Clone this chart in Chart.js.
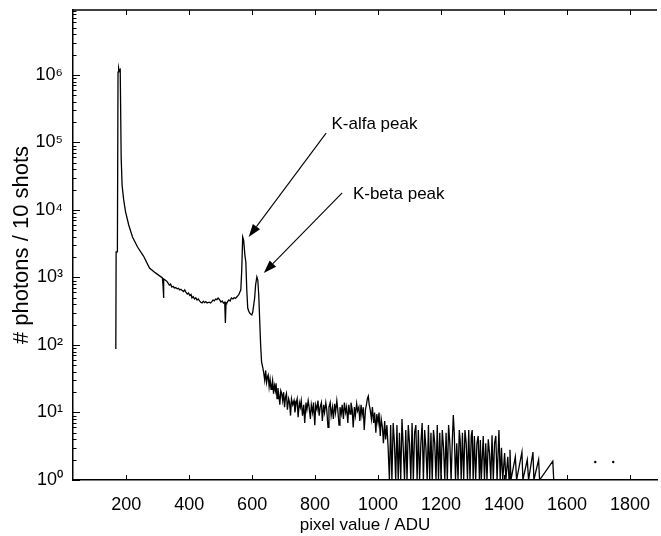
<!DOCTYPE html>
<html>
<head>
<meta charset="utf-8">
<script src="https://cdn.jsdelivr.net/npm/chart.js@4.4.1/dist/chart.umd.min.js"></script>
<style>
html,body{margin:0;padding:0;background:#ffffff;}
#wrap{width:661px;height:536px;position:relative;}
canvas{display:block;}
</style>
</head>
<body>
<div id="wrap"><canvas id="c" width="661" height="536"></canvas></div>
<script>
// ---------- data ----------
// main peak, continuum and K lines: pixel value (ADU) / photons per 10 shots
const peakAdu = [
  167,168,172,174,176,178,181,184,187,192,198,208,220,236,255,274,293,315,317,318,320,
  326,330,337,341,345,349,353,357,362,366,370,374,378,382,386,390,394,398,402,406,
  409,413,417,421,425,429,433,437,441,445,449,453,457,463,468,472,476,480,484,488,
  492,496,501,505,509,513,515,517,519,522,526,530,534,539,543,547,551,555,558,561,
  564,567,570,573,577,580,583,586,589,592,596,599,602,605,608,611,615,618,621,624,
  627,630,634,637
];
const peakCounts = [
  87,2400,2400,1100000,1270000,1150000,1200000,60000,23000,14100,9400,6000,3980,2830,2080,1380,1170,984,760,497,950,
  900,870,774,800,720,740,699,710,680,690,653,670,640,620,653,600,570,590,540,560,
  497,520,480,500,464,480,450,430,419,445,425,440,419,430,419,440,464,450,480,470,
  497,475,433,450,419,430,212,420,415,440,464,450,497,480,505,490,514,540,560,610,
  653,1290,3980,3590,2150,1700,653,353,320,298,285,278,308,391,497,774,1020,918,550,235,
  100,56,46,38
];
// noisy tail after the K-beta line
const tailAdu = [
  640,643,646,649,651,654,657,660,663,665,668,671,674,676,679,682,685,688,691,694,
  697,700,703,706,709,712,716,719,722,725,729,733,736,740,743,746,750,753,756,760,
  764,767,771,774,778,781,785,788,792,795,799,802,806,809,813,816,820,823,827,830,
  834,837,841,844,848,851,855,858,862,865,869,872,876,879,883,886,890,893,897,900,
  904,907,911,914,918,921,925,928,932,935,939,942,946,949,953,956,960,963,966,969,
  972,975,979,982,986,989,993,996,1000,1003,1007,1010,1014,1017,1021,1024,1028,1032
];
const tailCounts = [
  30,42,28,34,36,24,31,22,26,30,19,25,21,27,16,23,18,13,21,19,
  15,20,12,17,19,11,16,14,9,16,13,15,10,14,16,8.5,14,12,15,9,
  13,7,14,11,15,12,8,13,10,14,6.5,13,11,15,9,12,14,7.5,13,10,
  14,11,6,12,14,9,12,8,13.5,10,15,11,6.5,12,9.5,13,8,14,10,12,
  7,13,9.5,14,11,6,12,9,13.5,10.5,12,7.5,13,9,12,5.5,11,13,16,17.5,
  13,11,8,12,7,10,5,9.5,7,10,4.5,8,6,3.5,7.5,4,6.5,3
];
// sparse high-ADU region (single counts between empty bins)
const sparseAdu = [
  1036,1040,1044,1048,1052,1056,1060,1064,1068,1072,1076,1080,1084,1088,1092,1096,1100,1104,1108,1112,
  1116,1120,1124,1128,1132,1136,1140,1144,1148,1152,1156,1160,1164,1168,1172,1176,1180,1184,1188,1192,
  1196,1200,1204,1208,1212,1216,1220,1224,1228,1232,1236,1239,1242,1246,1250,1254,1258,1261,1264,1268,
  1272,1276,1280,1284,1288,1292,1296,1299,1302,1306,1310,1314,1318,1322,1325,1328,1334,1338,1342,1346,
  1350,1354,1358,1362,1366,1370,1374,1378,1384,1388,1392,1396,1402,1406,1412,1416,1419,1422,1436,1440,
  1457,1460,1474,1478,1492,1495,1510,1513,1555,1558
];
const sparseCounts = [
  1,6.5,1,7,3.5,1,6.5,1,5,1,8,3,1,5.5,1,6.5,3.5,1,7,1,
  5,6.5,1,5.5,1,3.5,7,1,5.5,3,1,6.5,1,5,1,5.5,3.5,1,6.5,1,
  5,1,5.5,3,1,5,1,6.5,3.5,1,4,9.2,5,1,3.5,1,5.5,3.7,1,5,
  1,5.5,3.5,1,5.5,1,4.5,5.5,1,4.5,1,3.5,4.5,1,3.9,1,4.5,1,3.5,1,
  4,2.5,1,4.6,1,3.5,4.5,1,5.5,1,3,1,2.5,1,2.2,1,2.8,1,2.2,1,
  2.6,1,2.0,1,2.6,1,2.0,1,1.9,1
];
// single isolated counts far out in the tail (not joined to neighbours)
const dotAdu = [1690, 1747];
const dotCounts = [1.85, 1.85];

// axis ticks and limits
const xTickValues = [200, 400, 600, 800, 1000, 1200, 1400, 1600, 1800];
const yDecades = [0, 1, 2, 3, 4, 5, 6];
const xRange = [31, 1886];
const yRange = [1, 9.18e6];

// annotations (data coordinates)
const notes = [
  {text: 'K-alfa peak', tx: 852, ty: 1.88e5, from: [835, 1.38e5], to: [589, 3980]},
  {text: 'K-beta peak', tx: 920, ty: 1.73e4, from: [886, 1.79e4], to: [637, 1170]}
];

// ---------- chart ----------
const SUP = ['\u2070','\u00B9','\u00B2','\u00B3','\u2074','\u2075','\u2076','\u2077'];
const FONT = 'Liberation Sans, Arial, Helvetica, sans-serif';

const allAdu = peakAdu.concat(tailAdu, sparseAdu);
const allCounts = peakCounts.concat(tailCounts, sparseCounts);
const linePts = allAdu.map((x, i) => ({x: x, y: allCounts[i]}));
const dotPts = dotAdu.map((x, i) => ({x: x, y: dotCounts[i]}));

const framePlugin = {
  id: 'frameTicks',
  afterDraw(chart) {
    const ctx = chart.ctx;
    const a = chart.chartArea;
    const xs = chart.scales.x, ys = chart.scales.y;
    ctx.save();
    ctx.strokeStyle = '#000';
    ctx.lineWidth = 1.5;
    ctx.beginPath();
    ctx.moveTo(a.left, a.top); ctx.lineTo(a.right, a.top);
    ctx.stroke();
    ctx.lineWidth = 1;
    ctx.beginPath();
    yDecades.forEach(d => {
      for (let m = 1; m <= 9; m++) {
        const v = m * Math.pow(10, d);
        if (v < yRange[0] || v > yRange[1]) continue;
        const py = Math.round(ys.getPixelForValue(v)) + 0.5;
        const len = (m === 1) ? 7 : 3.5;
        ctx.moveTo(a.left, py); ctx.lineTo(a.left + len, py);
      }
    });
    xs.ticks.forEach(t => {
      const px = Math.round(xs.getPixelForValue(t.value)) + 0.5;
      ctx.moveTo(px, a.bottom); ctx.lineTo(px, a.bottom - 5);
      ctx.moveTo(px, a.top); ctx.lineTo(px, a.top + 5);
    });
    ctx.stroke();

    ctx.fillStyle = '#000';
    ctx.lineWidth = 1.1;
    notes.forEach(n => {
      const x1 = xs.getPixelForValue(n.from[0]), y1 = ys.getPixelForValue(n.from[1]);
      const x2 = xs.getPixelForValue(n.to[0]), y2 = ys.getPixelForValue(n.to[1]);
      const ang = Math.atan2(y2 - y1, x2 - x1);
      const hl = 13, hw = 4.5;
      const bx = x2 - hl * Math.cos(ang), by = y2 - hl * Math.sin(ang);
      ctx.beginPath();
      ctx.moveTo(x1, y1); ctx.lineTo(bx, by);
      ctx.stroke();
      ctx.beginPath();
      ctx.moveTo(x2, y2);
      ctx.lineTo(bx + hw * Math.sin(ang), by - hw * Math.cos(ang));
      ctx.lineTo(bx - hw * Math.sin(ang), by + hw * Math.cos(ang));
      ctx.closePath();
      ctx.fill();
      ctx.font = '17px ' + FONT;
      ctx.textAlign = 'left';
      ctx.textBaseline = 'middle';
      ctx.fillText(n.text, xs.getPixelForValue(n.tx), ys.getPixelForValue(n.ty));
    });
    ctx.restore();
  }
};

new Chart(document.getElementById('c'), {
  type: 'scatter',
  data: {
    datasets: [
      {
        label: 'spectrum',
        data: linePts,
        showLine: true,
        borderColor: '#000',
        backgroundColor: '#000',
        borderWidth: 1.3,
        pointRadius: 0,
        tension: 0,
        spanGaps: false
      },
      {
        label: 'single counts',
        data: dotPts,
        showLine: false,
        pointRadius: 1.2,
        pointBorderWidth: 0,
        backgroundColor: '#000',
        borderColor: '#000'
      }
    ]
  },
  options: {
    responsive: false,
    animation: false,
    devicePixelRatio: 1,
    layout: {padding: {top: 10, right: 0, left: 0, bottom: 0}},
    plugins: {legend: {display: false}, tooltip: {enabled: false}},
    scales: {
      x: {
        type: 'linear',
        min: xRange[0],
        max: xRange[1],
        afterBuildTicks: s => { s.ticks = xTickValues.map(v => ({value: v})); },
        afterFit: s => { s.height = 56; s.paddingLeft = 0; s.paddingRight = 0; },
        grid: {display: false, drawTicks: false},
        border: {display: true, color: '#000', width: 1.5},
        ticks: {color: '#000', font: {family: FONT, size: 18}, padding: 14, maxRotation: 0, autoSkip: false,
                callback: v => String(v)},
        title: {display: true, text: 'pixel value / ADU', color: '#000',
                font: {family: FONT, size: 17}, padding: {top: 0, bottom: 0}}
      },
      y: {
        type: 'logarithmic',
        min: yRange[0],
        max: yRange[1],
        afterBuildTicks: s => { s.ticks = yDecades.map(d => ({value: Math.pow(10, d)})); },
        afterFit: s => { s.width = 73; s.paddingTop = 0; s.paddingBottom = 0; },
        grid: {display: false, drawTicks: false},
        border: {display: true, color: '#000', width: 1.5},
        ticks: {color: '#000', font: {family: FONT, size: 18}, padding: 10, autoSkip: false,
                callback: v => '10' + SUP[Math.round(Math.log10(v))]},
        title: {display: true, text: '# photons / 10 shots', color: '#000',
                font: {family: FONT, size: 22}, padding: {top: 9, bottom: 0}}
      }
    }
  },
  plugins: [framePlugin]
});
</script>
</body>
</html>
